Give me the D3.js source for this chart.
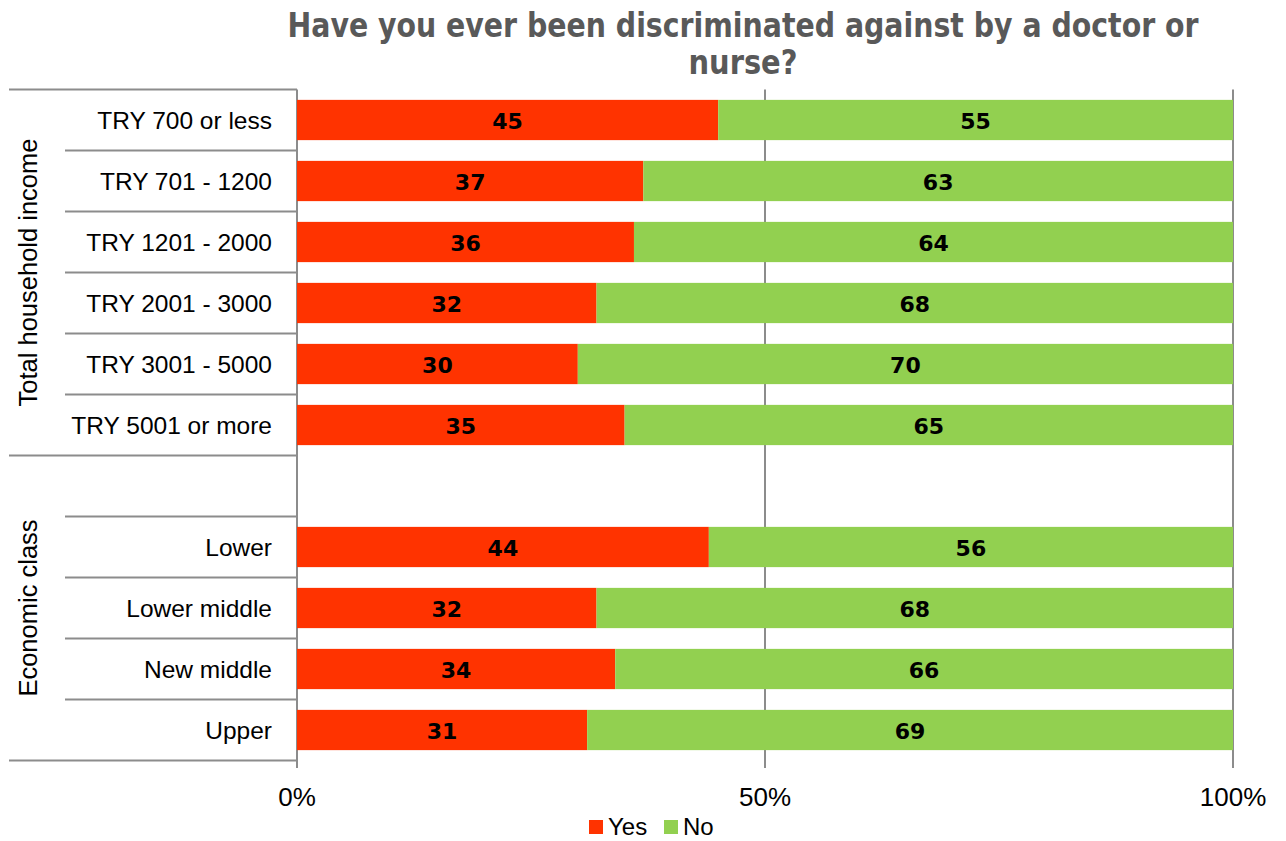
<!DOCTYPE html>
<html lang="en">
<head>
    <title>Discrimination by doctor or nurse</title>
    <script src="https://d3js.org/d3.v7.min.js"></script>
    <style>
        body { margin: 0; background: #fff; }
        text { font-family: "Liberation Sans", Arial, sans-serif; }
    </style>
</head>
<body>

<script>
    const categories = ["TRY 700 or less", "TRY 701 - 1200", "TRY 1201 - 2000", "TRY 2001 - 3000",
        "TRY 3001 - 5000", "TRY 5001 or more", "", "Lower", "Lower middle", "New middle", "Upper"];
    const yesValues = [45, 37, 36, 32, 30, 35, null, 44, 32, 34, 31];
    const noValues  = [55, 63, 64, 68, 70, 65, null, 56, 68, 66, 69];
    const groups = [
        {name: "Total household income", first: 0, last: 5},
        {name: "Economic class", first: 6, last: 10}
    ];
    const ticks = [0, 50, 100];
    const seriesNames = ["Yes", "No"];
    const colors = ["#FF3300", "#92D050"];

    const W = 1286, H = 841;
    const svg = d3.select("body").append("svg").attr("width", W).attr("height", H);

    const x = d3.scaleLinear().domain([0, 100]).range([297, 1233]);
    const y = d3.scaleBand().domain(categories).range([89.5, 760.5])
            .paddingInner(0.34).paddingOuter(0.17);
    const step = y.step();
    const color = d3.scaleOrdinal().domain(seriesNames).range(colors);

    // title
    svg.append("g")
            .selectAll("text")
            .data(["Have you ever been discriminated against by a doctor or", "nurse?"])
            .join("text")
            .attr("x", 743)
            .attr("y", (d, i) => 37 + i * 37)
            .attr("text-anchor", "middle")
            .attr("textLength", (d, i) => i === 0 ? 911 : 109)
            .attr("lengthAdjust", "spacingAndGlyphs")
            .style("font-family", "'DejaVu Sans Condensed', 'DejaVu Sans', sans-serif")
            .style("font-weight", "bold")
            .style("font-size", "33px")
            .style("fill", "#595959")
            .text(d => d);

    // gridlines and axis
    svg.append("g")
            .selectAll("line")
            .data(ticks)
            .join("line")
            .attr("x1", d => x(d)).attr("x2", d => x(d))
            .attr("y1", 89.5).attr("y2", 768)
            .attr("stroke", "#8c8c8c").attr("stroke-width", 2);

    svg.append("g")
            .selectAll("text")
            .data(ticks)
            .join("text")
            .attr("x", d => x(d))
            .attr("y", 806)
            .attr("text-anchor", "middle")
            .style("font-size", "26px")
            .style("fill", "#000")
            .text(d => d + "%");

    // category separators
    const sepLines = d3.range(categories.length + 1).map(i => {
        const isGroupEdge = groups.some(g => g.first === i || g.last + 1 === i);
        return {y: y.range()[0] + i * step, x1: isGroupEdge ? 9 : 65};
    });
    svg.append("g")
            .selectAll("line")
            .data(sepLines)
            .join("line")
            .attr("x1", d => d.x1).attr("x2", x(0))
            .attr("y1", d => d.y).attr("y2", d => d.y)
            .attr("stroke", "#8c8c8c").attr("stroke-width", 2);

    // bars
    const rows = categories.map((c, i) => ({cat: c, yes: yesValues[i], no: noValues[i]}))
            .filter(d => d.yes != null);
    const stack = d3.stack().keys(["yes", "no"])(rows);

    const layer = svg.append("g")
            .selectAll("g")
            .data(stack)
            .join("g")
            .attr("fill", (d, i) => colors[i]);

    layer.selectAll("rect")
            .data(d => d)
            .join("rect")
            .attr("x", d => x(d[0]))
            .attr("width", d => x(d[1]) - x(d[0]))
            .attr("y", d => y(d.data.cat))
            .attr("height", y.bandwidth());

    layer.selectAll("text")
            .data(d => d)
            .join("text")
            .attr("x", d => (x(d[0]) + x(d[1])) / 2)
            .attr("y", d => y(d.data.cat) + y.bandwidth() / 2 + 9)
            .attr("text-anchor", "middle")
            .style("font-family", "'DejaVu Sans', sans-serif")
            .style("font-weight", "bold")
            .style("font-size", "22px")
            .style("fill", "#000")
            .text(d => d[1] - d[0]);

    // category labels
    svg.append("g")
            .selectAll("text")
            .data(categories.filter(c => c !== ""))
            .join("text")
            .attr("x", 272)
            .attr("y", d => y(d) + y.bandwidth() / 2 + 9)
            .attr("text-anchor", "end")
            .style("font-size", "24.5px")
            .style("fill", "#000")
            .text(d => d);

    // group labels
    svg.append("g")
            .selectAll("text")
            .data(groups)
            .join("text")
            .attr("transform", d => {
                const cy = y.range()[0] + (d.first + d.last + 1) / 2 * step;
                return `translate(37,${cy}) rotate(-90)`;
            })
            .attr("text-anchor", "middle")
            .style("font-size", "25.5px")
            .style("fill", "#000")
            .text(d => d.name);

    // legend
    const legend = svg.append("g");
    const legendX = [589, 664];
    seriesNames.forEach((s, i) => {
        legend.append("rect")
                .attr("x", legendX[i]).attr("y", 820)
                .attr("width", 14).attr("height", 14)
                .attr("fill", color(s));
        legend.append("text")
                .attr("x", legendX[i] + 19).attr("y", 835)
                .style("font-size", "24px")
                .style("fill", "#000")
                .text(s);
    });
</script>

</body>
</html>
